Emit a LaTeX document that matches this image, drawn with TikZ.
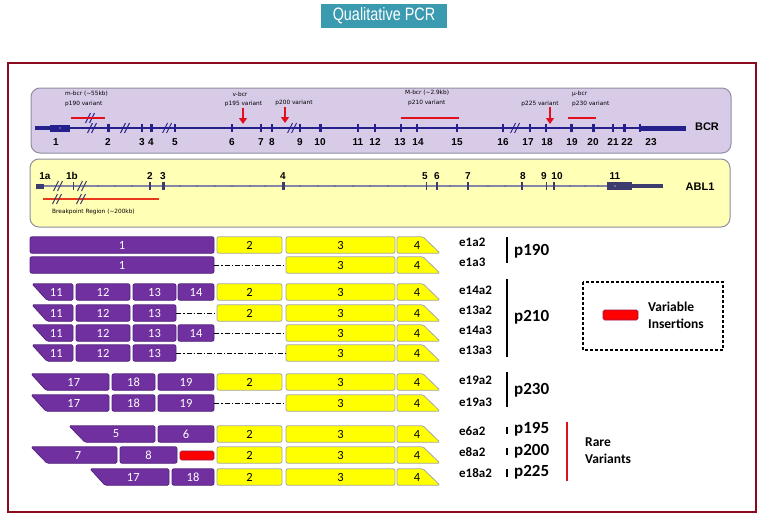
\documentclass[tikz,border=0pt]{standalone}
\usepackage{graphicx}
\usepackage{fontspec}
\setmainfont{Carlito}
\newfontfamily\arialf{Liberation Sans}
\newfontfamily\smallf{DejaVu Sans}
\usetikzlibrary{arrows.meta}
\definecolor{frameRed}{HTML}{8B0A1E}
\definecolor{titleTeal}{HTML}{3A9AB0}
\definecolor{bcrFill}{HTML}{D8CBE8}
\definecolor{ablFill}{HTML}{FFFFB5}
\definecolor{panelBorder}{HTML}{8E8EA0}
\definecolor{navy}{HTML}{24208C}
\definecolor{ablLine}{HTML}{8585A5}
\definecolor{ablEx}{HTML}{3C3C6E}
\definecolor{exPurple}{HTML}{7030A0}
\definecolor{exPurpleD}{HTML}{55257E}
\definecolor{exYellow}{HTML}{FFFF00}
\definecolor{exGray}{HTML}{A6A6A6}
\definecolor{annRed}{HTML}{E0101F}
\definecolor{bpRed}{HTML}{E8381C}
\newcommand\rex[6]{\node[#1,minimum width={(#4)-(#3)},minimum height=16.5,inner sep=0pt] (#2) at ({((#3)+(#4))/2},#5) {#6};}
\newcommand\sex[6]{\draw[pexs] (#2,{#5-8.25}) -- (#4,{#5-8.25}) -- (#4,{#5+8.25}) -- (#3,{#5+8.25}) -- cycle;
  \node[ptxt] (#1) at ({((#2)+(#3))/4+(#4)/2},#5) {#6};}
\newcommand\yfour[2]{\draw[yexs] (397,{#2-8.25}) -- (423,{#2-8.25}) -- (440,{#2+8.25}) -- (397,{#2+8.25}) -- cycle;
  \node[ytxt] (#1) at (417,#2) {4};}
\newcommand\dslash[3]{\draw[#3] ({#1-3.5},{#2+5}) -- ({#1+1.5},{#2-5}); \draw[#3] ({#1+0.5},{#2+5}) -- ({#1+5.5},{#2-5});}
\tikzset{
  numfont/.style={font=\fontsize{12.5}{12.5}\selectfont},
  pex/.style={fill=exPurple, draw=exPurpleD, line width=0.8pt, rounded corners=2pt, text=white, numfont},
  pexs/.style={fill=exPurple, draw=exPurpleD, line width=0.8pt, rounded corners=1.5pt},
  ptxt/.style={text=white, numfont, inner sep=0pt},
  yex/.style={fill=exYellow, draw=exGray, line width=0.8pt, rounded corners=2pt, text=black, numfont},
  yexs/.style={fill=exYellow, draw=exGray, line width=0.8pt, rounded corners=1.5pt},
  ytxt/.style={text=black, numfont, inner sep=0pt},
  insbox/.style={fill=red, draw=exPurpleD!60!red, line width=0.6pt, rounded corners=1.5pt, inner sep=0pt},
  dd/.style={draw=black, line width=1pt, dash pattern=on 5pt off 2pt on 1.2pt off 2pt},
  elab/.style={font=\bfseries\fontsize{13}{13}\selectfont, anchor=west, inner sep=0pt},
  plab/.style={font=\bfseries\fontsize{17}{17}\selectfont, anchor=west, inner sep=0pt},
  rlab/.style={font=\bfseries\fontsize{13.5}{13.5}\selectfont, anchor=west, inner sep=0pt},
  pbar/.style={line width=2.5pt, black},
  sann/.style={font=\smallf\fontsize{5.8}{6}\selectfont, inner sep=0pt},
  bnum/.style={font=\arialf\bfseries\fontsize{10}{10}\selectfont, inner sep=0pt},
  gname/.style={font=\arialf\bfseries\fontsize{11}{11}\selectfont, inner sep=0pt},
  redarrow/.style={annRed, line width=2pt, -{Triangle[length=6pt,width=8pt]}},
  redseg/.style={annRed, line width=2.5pt},
  bslash/.style={navy, line width=0.9pt},
  aslash/.style={ablEx, line width=0.9pt},
}
\begin{document}
\begin{tikzpicture}[x=1pt,y=-1pt]
\useasboundingbox[fill=white] (0,0) rectangle (762,519);
% title
\node[fill=titleTeal, minimum width=126, minimum height=24, inner sep=0pt, text=white,
      font=\arialf\fontsize{18}{18}\selectfont] (title) at (384,16) {\scalebox{0.8}[1]{Qualitative PCR}};
% frame
\draw[frameRed, line width=2pt] (8,63) rectangle (756,512);

% ---------- BCR panel ----------
\draw[fill=bcrFill, draw=panelBorder, line width=1pt, rounded corners=9pt] (31,88) rectangle (731,153);
\draw[navy, line width=1.2pt] (50,128) -- (640,128);
\fill[navy] (35,126.2) rectangle (50,129.8);
\fill[navy] (50,124.5) rectangle (70,131.5);
\fill[white] (60,128) circle (0.7);
\fill[navy] (639,126) rectangle (686,130.5);
\fill[navy] (638.5,124) rectangle (640.5,132);
\foreach \x/\w in {108/3,142/2,151/3,175/2,232/2,261/1.2,272/2,300/2,320/3,358/2,375/2,401/2,417/2,457/2,503/2,530/1.2,546/2,571/3,593/3,613/2,624/3}
  \fill[navy] ({\x-\w/2},124) rectangle ({\x+\w/2},132);
\foreach \x in {80,98,133,158,187,200,214,250,283,310,340,388,432,445,481,492,520,560,582,603}
  \fill[navy] (\x,128) circle (0.8);
\dslash{89}{118}{bslash}
\dslash{91}{128}{bslash}
\dslash{124}{128}{bslash}
\dslash{166}{128}{bslash}
\dslash{291}{128}{bslash}
\dslash{514}{128}{bslash}
\foreach \x/\t [count=\i] in {56/1,108/2,142/3,151/4,175/5,232/6,261/7,272/8,300/9,320/10,358/11,375/12,400/13,418/14,457/15,503/16,528/17,547/18,572/19,593/20,613/21,627/22,651/23}
  \node[bnum] (bl\i) at (\x,142) {\t};
\node[gname] (bcr) at (707,127) {BCR};
% annotations
\node[sann, anchor=west] (mbcr) at (65,94) {m-bcr (\textasciitilde55kb)};
\node[sann, anchor=west] (p190v) at (65,104) {p190 variant};
\node[sann] (vbcr) at (240,94) {v-bcr};
\node[sann] (p195v) at (243.5,104) {p195 variant};
\node[sann] (p200v) at (294,103) {p200 variant};
\node[sann, anchor=west] (Mbcr) at (405,93) {M-bcr (\textasciitilde2.9kb)};
\node[sann, anchor=west] (p210v) at (408,103) {p210 variant};
\node[sann] (p225v) at (540,104) {p225 variant};
\node[sann, anchor=west] (ubcr) at (572,94) {µ-bcr};
\node[sann, anchor=west] (p230v) at (572,104) {p230 variant};
\draw[redseg] (71,118) -- (105,118);
\draw[redseg] (401,118) -- (459,118);
\draw[redseg] (568,118) -- (596,118);
\coordinate (ar1s) at (243,108); \coordinate (ar1e) at (243,124);
\coordinate (ar2s) at (285,107); \coordinate (ar2e) at (285,123);
\coordinate (ar3s) at (550,107); \coordinate (ar3e) at (550,124);
\draw[redarrow] (ar1s) -- (ar1e);
\draw[redarrow] (ar2s) -- (ar2e);
\draw[redarrow] (ar3s) -- (ar3e);

% ---------- ABL1 panel ----------
\draw[fill=ablFill, draw=panelBorder, line width=1pt, rounded corners=9pt] (30,159) rectangle (730,227);
\draw[ablLine, line width=1.2pt] (36,186) -- (607,186);
\fill[ablEx] (36,183.5) rectangle (44,188.5);
\foreach \x/\w in {73/1,150/2,163/3,283/3,426/1,437/2,468/2.5,522/2,546/1,554/2.5}
  \fill[ablEx] ({\x-\w/2},182) rectangle ({\x+\w/2},190);
\foreach \x in {98,115,132,180,197,215,232,250,265,300,318,335,353,370,388,405,450,488,505,570,585,598}
  \fill[ablEx] (\x,186) circle (0.7);
\fill[ablEx] (607,182) rectangle (632,190);
\fill[ablEx] (632,184.3) rectangle (663,187.8);
\fill[white] (615,186) circle (0.7);
\draw[bpRed, line width=2pt] (43,199) -- (159,199);
\dslash{57}{186}{aslash}
\dslash{81}{186}{aslash}
\dslash{56}{199}{aslash}
\dslash{80}{199}{aslash}
\foreach \x/\t [count=\i] in {45/1a,72/1b,150/2,163/3,283/4,425/5,437/6,468/7,523/8,544/9,557/10,615/11}
  \node[bnum] (al\i) at (\x,176) {\t};
\node[gname] (abl) at (700,187) {ABL1};
\node[sann, anchor=west] (bpr) at (52,212) {Breakpoint Region (\textasciitilde200kb)};

% ---------- transcripts ----------
% row 1 e1a2
\rex{pex}{a1}{30}{214}{245}{1}
\rex{yex}{a2}{217}{282}{245}{2}
\rex{yex}{a3}{286}{395}{245}{3}
\yfour{a4}{245}
% row 2 e1a3
\rex{pex}{b1}{30}{214}{265}{1}
\rex{yex}{b3}{286}{395}{265}{3}
\yfour{b4}{265}
\draw[dd] (b1.east) -- (b3.west);
% row 3 e14a2
\sex{c11}{32}{47}{73}{292}{11}
\rex{pex}{c12}{76}{130}{292}{12}
\rex{pex}{c13}{133}{176}{292}{13}
\rex{pex}{c14}{178}{214}{292}{14}
\rex{yex}{c2}{217}{282}{292}{2}
\rex{yex}{c3}{286}{395}{292}{3}
\yfour{c4}{292}
% row 4 e13a2
\sex{d11}{32}{47}{73}{313}{11}
\rex{pex}{d12}{76}{130}{313}{12}
\rex{pex}{d13}{133}{176}{313}{13}
\rex{yex}{d2}{217}{282}{313}{2}
\rex{yex}{d3}{286}{395}{313}{3}
\yfour{d4}{313}
\draw[dd] (d13.east) -- (d2.west);
% row 5 e14a3
\sex{e11}{32}{47}{73}{333}{11}
\rex{pex}{e12}{76}{130}{333}{12}
\rex{pex}{e13}{133}{176}{333}{13}
\rex{pex}{e14}{178}{214}{333}{14}
\rex{yex}{e3}{286}{395}{333}{3}
\yfour{e4}{333}
\draw[dd] (e14.east) -- (e3.west);
% row 6 e13a3
\sex{f11}{32}{47}{73}{353}{11}
\rex{pex}{f12}{76}{130}{353}{12}
\rex{pex}{f13}{133}{176}{353}{13}
\rex{yex}{f3}{286}{395}{353}{3}
\yfour{f4}{353}
\draw[dd] (f13.east) -- (f3.west);
% row 7 e19a2
\sex{g17}{31}{46}{109}{382}{17}
\rex{pex}{g18}{112}{155}{382}{18}
\rex{pex}{g19}{158}{214}{382}{19}
\rex{yex}{g2}{217}{282}{382}{2}
\rex{yex}{g3}{286}{395}{382}{3}
\yfour{g4}{382}
% row 8 e19a3
\sex{h17}{31}{46}{109}{403}{17}
\rex{pex}{h18}{112}{155}{403}{18}
\rex{pex}{h19}{158}{214}{403}{19}
\rex{yex}{h3}{286}{395}{403}{3}
\yfour{h4}{403}
\draw[dd] (h19.east) -- (h3.west);
% row 9 e6a2
\sex{i5}{69}{85}{155}{434}{5}
\rex{pex}{i6}{158}{214}{434}{6}
\rex{yex}{i2}{217}{282}{434}{2}
\rex{yex}{i3}{286}{395}{434}{3}
\yfour{i4}{434}
% row 10 e8a2
\sex{j7}{31}{47}{117}{455}{7}
\rex{pex}{j8}{120}{177}{455}{8}
\node[insbox, minimum width=34, minimum height=9] (jins) at (197,455.5) {};
\rex{yex}{j2}{217}{282}{455}{2}
\rex{yex}{j3}{286}{395}{455}{3}
\yfour{j4}{455}
% row 11 e18a2
\sex{k17}{90}{105}{169}{477}{17}
\rex{pex}{k18}{172}{214}{477}{18}
\rex{yex}{k2}{217}{282}{477}{2}
\rex{yex}{k3}{286}{395}{477}{3}
\yfour{k4}{477}

% ---------- labels ----------
\node[elab] (la) at (459,242) {e1a2};
\node[elab] (lb) at (459,262) {e1a3};
\node[elab] (lc) at (459,290) {e14a2};
\node[elab] (ld) at (459,310) {e13a2};
\node[elab] (le) at (459,330) {e14a3};
\node[elab] (lf) at (459,350) {e13a3};
\node[elab] (lg) at (459,380) {e19a2};
\node[elab] (lh) at (459,402) {e19a3};
\node[elab] (li) at (459,431) {e6a2};
\node[elab] (lj) at (459,452) {e8a2};
\node[elab] (lk) at (459,473) {e18a2};
\draw[pbar] (507,237) -- (507,263);
\draw[pbar] (507,279) -- (507,357);
\draw[pbar] (507,372) -- (507,407);
\draw[pbar] (507,427) -- (507,434);
\draw[pbar] (507,448) -- (507,455);
\draw[pbar] (507,469) -- (507,477);
\node[plab] (p190) at (514,251) {p190};
\node[plab] (p210) at (514,317) {p210};
\node[plab] (p230) at (514,390) {p230};
\node[plab] (p195) at (514,429) {p195};
\node[plab] (p200) at (514,451) {p200};
\node[plab] (p225) at (514,472) {p225};
\draw[annRed, line width=1.5pt] (567,422) -- (567,481);
\node[rlab] (rare) at (585,442) {Rare};
\node[rlab] (variants) at (585,459) {Variants};
% legend
\draw[black, line width=1.2pt, dash pattern=on 3pt off 2pt] (583,282) rectangle (723,350);
\node[insbox, minimum width=35, minimum height=10] (legins) at (620.5,315) {};
\node[rlab] (var) at (648,307) {Variable};
\node[rlab] (insr) at (648,324) {Insertions};
\end{tikzpicture}
\end{document}
